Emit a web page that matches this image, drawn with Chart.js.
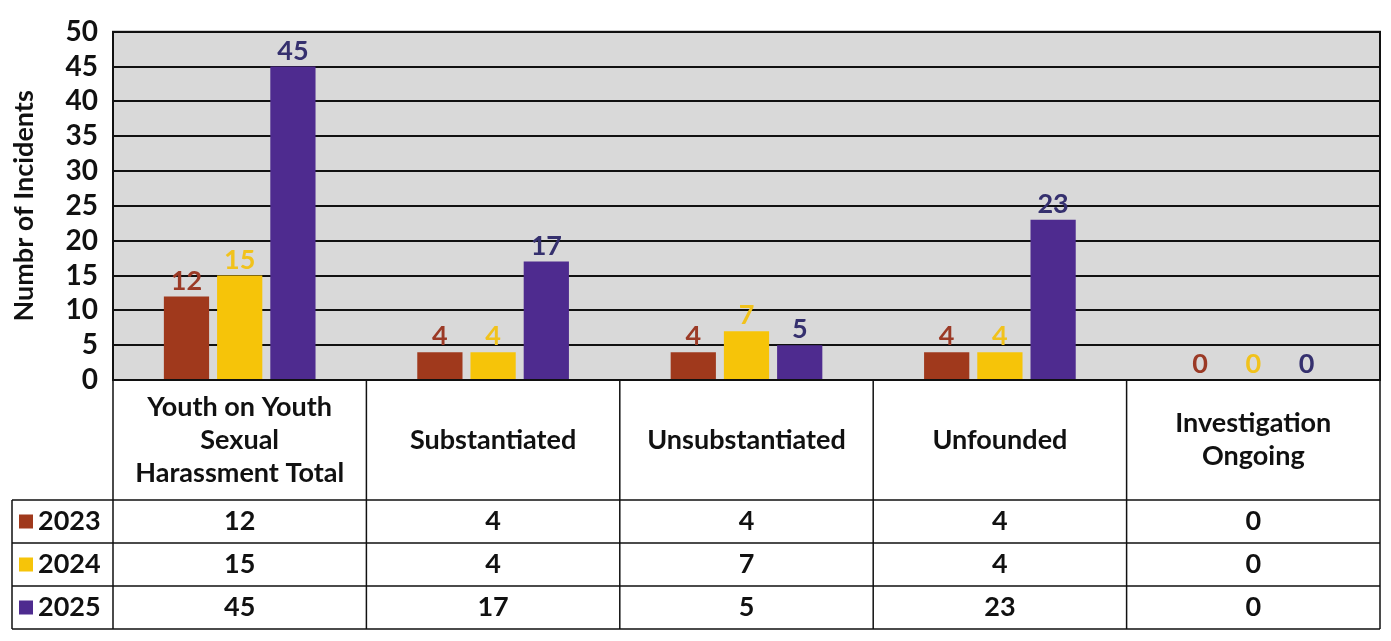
<!DOCTYPE html>
<html>
<head>
<meta charset="utf-8">
<script src="https://cdn.jsdelivr.net/npm/chart.js@4"></script>
<style>
  html, body { margin: 0; padding: 0; background: #ffffff; }
  #wrap { width: 1391px; height: 641px; }
</style>
</head>
<body>
<div id="wrap"><canvas id="incidents-chart" width="1391" height="641"></canvas></div>
<script>
// Chart data
const categories = [
    ['Youth on Youth', 'Sexual', 'Harassment Total'],
    ['Substantiated'],
    ['Unsubstantiated'],
    ['Unfounded'],
    ['Investigation', 'Ongoing']
];
const years = ['2023', '2024', '2025'];
const values2023 = [12, 4, 4, 4, 0];
const values2024 = [15, 4, 7, 4, 0];
const values2025 = [45, 17, 5, 23, 0];
const yTicks = [0, 5, 10, 15, 20, 25, 30, 35, 40, 45, 50];

const barColors = ['#A0391C', '#F6C409', '#4E2B8F'];
const labelColors = ['#9B3A26', '#F1C21C', '#35306E'];
const FONT = 'Lato, "Open Sans", sans-serif';

// Grey plot background
const plotBackground = {
    id: 'plotBackground',
    beforeDraw(chart) {
        const { ctx, chartArea: a } = chart;
        ctx.save();
        ctx.fillStyle = '#d9d9d9';
        ctx.fillRect(a.left, a.top, a.right - a.left, a.bottom - a.top);
        ctx.restore();
    }
};

// Value labels above each bar
const valueLabels = {
    id: 'valueLabels',
    afterDatasetsDraw(chart) {
        const { ctx } = chart;
        ctx.save();
        ctx.font = 'bold 27px ' + FONT;
        ctx.textAlign = 'center';
        ctx.textBaseline = 'bottom';
        chart.data.datasets.forEach((ds, i) => {
            chart.getDatasetMeta(i).data.forEach((bar, j) => {
                ctx.fillStyle = labelColors[i];
                ctx.fillText(String(ds.data[j]), bar.x, bar.y - 2);
            });
        });
        ctx.restore();
    }
};

// Plot border + data table under the chart
const dataTable = {
    id: 'dataTable',
    afterDraw(chart) {
        const { ctx, chartArea: a } = chart;
        const x = chart.scales.x;
        const colW = (a.right - a.left) / categories.length;
        const headTop = a.bottom;
        const headBottom = 500;
        const rowH = 43;
        const tableBottom = headBottom + rowH * years.length;
        const legendLeft = 12;

        ctx.save();
        ctx.strokeStyle = '#111';
        ctx.lineWidth = 2;
        ctx.strokeRect(a.left, a.top, a.right - a.left, a.bottom - a.top);

        ctx.lineWidth = 1.5;
        ctx.beginPath();
        // horizontal lines
        ctx.moveTo(a.left, headTop); ctx.lineTo(a.right, headTop);
        for (let r = 0; r <= years.length; r++) {
            const y = headBottom + r * rowH;
            ctx.moveTo(legendLeft, y); ctx.lineTo(a.right, y);
        }
        // vertical lines
        for (let c = 0; c <= categories.length; c++) {
            const xx = a.left + c * colW;
            ctx.moveTo(xx, headTop); ctx.lineTo(xx, tableBottom);
        }
        ctx.moveTo(legendLeft, headBottom); ctx.lineTo(legendLeft, tableBottom);
        ctx.stroke();

        ctx.fillStyle = '#111';
        ctx.font = 'bold 27px ' + FONT;
        ctx.textAlign = 'center';
        ctx.textBaseline = 'middle';
        const lineH = 33;
        categories.forEach((lines, c) => {
            const cx = x.getPixelForValue(c);
            const cy = (headTop + headBottom) / 2;
            lines.forEach((t, k) => {
                ctx.fillText(t, cx, cy + (k - (lines.length - 1) / 2) * lineH);
            });
        });

        const rows = [values2023, values2024, values2025];
        rows.forEach((vals, r) => {
            const cy = headBottom + r * rowH + rowH / 2;
            vals.forEach((v, c) => {
                ctx.fillStyle = '#111';
                ctx.textAlign = 'center';
                ctx.fillText(String(v), x.getPixelForValue(c), cy);
            });
            // legend key
            ctx.fillStyle = barColors[r];
            ctx.fillRect(legendLeft + 7, cy - 7, 14, 14);
            ctx.fillStyle = '#111';
            ctx.textAlign = 'left';
            ctx.fillText(years[r], legendLeft + 26, cy);
        });
        ctx.restore();
    }
};

const ctx = document.getElementById('incidents-chart').getContext('2d');
new Chart(ctx, {
    type: 'bar',
    data: {
        labels: categories.map(c => c.join(' ')),
        datasets: [values2023, values2024, values2025].map((vals, i) => ({
            label: years[i],
            data: vals,
            backgroundColor: barColors[i],
            categoryPercentage: 0.63,
            barPercentage: 0.85
        }))
    },
    options: {
        responsive: false,
        animation: false,
        layout: { padding: { top: 0, right: 11, bottom: 261, left: 0 } },
        plugins: {
            legend: { display: false },
            tooltip: { enabled: false }
        },
        scales: {
            x: { display: false },
            y: {
                min: 0,
                max: 50,
                afterBuildTicks(scale) {
                    scale.ticks = yTicks.map(v => ({ value: v }));
                },
                afterFit(scale) { scale.width = 113; },
                border: { display: false },
                grid: { color: '#111', lineWidth: 2, drawTicks: false },
                ticks: {
                    color: '#111',
                    padding: 15,
                    autoSkip: false,
                    font: { family: FONT, size: 28, weight: 'bold' }
                },
                title: {
                    display: true,
                    text: 'Numbr of Incidents',
                    color: '#111',
                    padding: { top: 8, bottom: 0 },
                    font: { family: FONT, size: 27, weight: 'bold' }
                }
            }
        }
    },
    plugins: [plotBackground, valueLabels, dataTable]
});
</script>
</body>
</html>
